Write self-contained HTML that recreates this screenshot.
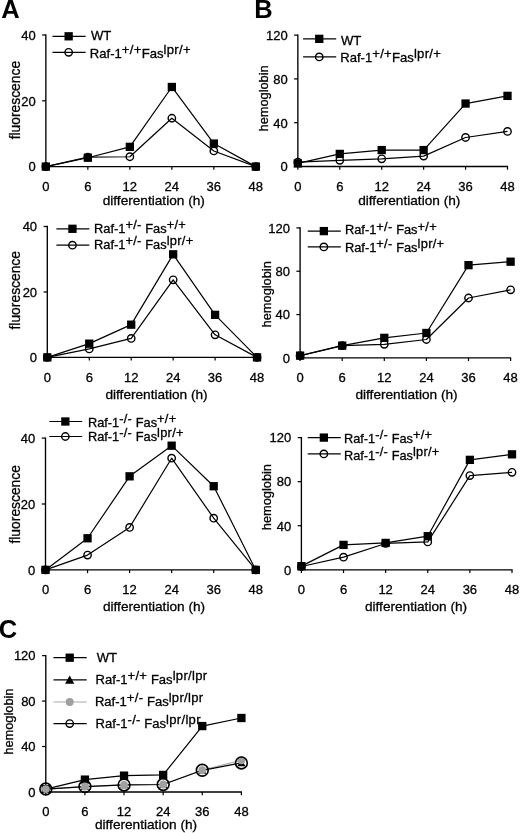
<!DOCTYPE html>
<html><head><meta charset="utf-8"><title>Figure</title>
<style>html,body{margin:0;padding:0;background:#fff}svg{display:block;filter:blur(0.35px)}text{font-family:"Liberation Sans", sans-serif;fill:#000;stroke:#000;stroke-width:0.3px}</style>
</head><body>
<svg width="520" height="833" viewBox="0 0 520 833">
<rect width="520" height="833" fill="#fff"/>
<text x="1.2" y="18.4" font-size="25.5" font-weight="bold" style="stroke:none">A</text>
<text x="254.2" y="18.4" font-size="25.5" font-weight="bold" style="stroke:none">B</text>
<text x="-1.3" y="638.4" font-size="25.5" font-weight="bold" style="stroke:none">C</text>
<path d="M45.85 34.30 V166.6 H256.45" fill="none" stroke="#000" stroke-width="1.35"/>
<path d="M42.15 166.60 H45.85" stroke="#000" stroke-width="1.25"/>
<text x="35.65" y="171.40" text-anchor="end" font-size="13.0">0</text>
<path d="M42.15 100.80 H45.85" stroke="#000" stroke-width="1.25"/>
<text x="35.65" y="105.60" text-anchor="end" font-size="13.0">20</text>
<path d="M42.15 35.00 H45.85" stroke="#000" stroke-width="1.25"/>
<text x="35.65" y="39.80" text-anchor="end" font-size="13.0">40</text>
<path d="M45.85 166.6 V169.80" stroke="#000" stroke-width="1.2"/>
<text x="45.85" y="191.30" text-anchor="middle" font-size="13.0">0</text>
<path d="M87.85 166.6 V169.80" stroke="#000" stroke-width="1.2"/>
<text x="87.85" y="191.30" text-anchor="middle" font-size="13.0">6</text>
<path d="M129.85 166.6 V169.80" stroke="#000" stroke-width="1.2"/>
<text x="129.85" y="191.30" text-anchor="middle" font-size="13.0">12</text>
<path d="M171.85 166.6 V169.80" stroke="#000" stroke-width="1.2"/>
<text x="171.85" y="191.30" text-anchor="middle" font-size="13.0">24</text>
<path d="M213.85 166.6 V169.80" stroke="#000" stroke-width="1.2"/>
<text x="213.85" y="191.30" text-anchor="middle" font-size="13.0">36</text>
<path d="M255.85 166.6 V169.80" stroke="#000" stroke-width="1.2"/>
<text x="255.85" y="191.30" text-anchor="middle" font-size="13.0">48</text>
<text x="153.75" y="205.00" text-anchor="middle" font-size="13.65">differentiation (h)</text>
<text transform="translate(20.2,100.10) rotate(-90)" text-anchor="middle" font-size="13.85">fluorescence</text>
<path d="M45.85 166.60 L87.85 157.06 L129.85 156.73 L171.85 118.24 L213.85 150.97 L255.85 166.60" fill="none" stroke="#000" stroke-width="1.2" stroke-linejoin="round"/>
<circle cx="45.85" cy="166.60" r="3.7" fill="none" stroke="#000" stroke-width="1.4"/>
<circle cx="87.85" cy="157.06" r="3.7" fill="none" stroke="#000" stroke-width="1.4"/>
<circle cx="129.85" cy="156.73" r="3.7" fill="none" stroke="#000" stroke-width="1.4"/>
<circle cx="171.85" cy="118.24" r="3.7" fill="none" stroke="#000" stroke-width="1.4"/>
<circle cx="213.85" cy="150.97" r="3.7" fill="none" stroke="#000" stroke-width="1.4"/>
<circle cx="255.85" cy="166.60" r="3.7" fill="none" stroke="#000" stroke-width="1.4"/>
<path d="M45.85 166.60 L87.85 157.72 L129.85 146.86 L171.85 86.98 L213.85 143.57 L255.85 166.60" fill="none" stroke="#000" stroke-width="1.2" stroke-linejoin="round"/>
<rect x="41.70" y="162.45" width="8.3" height="8.3" fill="#000"/>
<rect x="83.70" y="153.57" width="8.3" height="8.3" fill="#000"/>
<rect x="125.70" y="142.71" width="8.3" height="8.3" fill="#000"/>
<rect x="167.70" y="82.83" width="8.3" height="8.3" fill="#000"/>
<rect x="209.70" y="139.42" width="8.3" height="8.3" fill="#000"/>
<rect x="251.70" y="162.45" width="8.3" height="8.3" fill="#000"/>
<path d="M52.5 36.3 H85.6" stroke="#000" stroke-width="1.2"/>
<rect x="64.50" y="32.15" width="8.3" height="8.3" fill="#000"/>
<text x="90.9" y="40.4" font-size="13.1"><tspan dy="0.0">WT</tspan></text>
<path d="M52.5 52.3 H85.6" stroke="#000" stroke-width="1.2"/>
<circle cx="68.65" cy="52.30" r="3.7" fill="none" stroke="#000" stroke-width="1.4"/>
<text x="89.8" y="57.7" font-size="13.1"><tspan dy="0.0">Raf-1</tspan><tspan dy="-3.8" letter-spacing="0.3">+/+</tspan><tspan dy="3.8">Fas</tspan><tspan dy="-3.8" letter-spacing="0.3">lpr/+</tspan></text>
<path d="M47.3 225.80 V357.4 H257.65" fill="none" stroke="#000" stroke-width="1.35"/>
<path d="M43.60 357.40 H47.3" stroke="#000" stroke-width="1.25"/>
<text x="37.10" y="362.20" text-anchor="end" font-size="13.0">0</text>
<path d="M43.60 291.95 H47.3" stroke="#000" stroke-width="1.25"/>
<text x="37.10" y="296.75" text-anchor="end" font-size="13.0">20</text>
<path d="M43.60 226.50 H47.3" stroke="#000" stroke-width="1.25"/>
<text x="37.10" y="231.30" text-anchor="end" font-size="13.0">40</text>
<path d="M47.30 357.4 V360.60" stroke="#000" stroke-width="1.2"/>
<text x="47.30" y="382.00" text-anchor="middle" font-size="13.0">0</text>
<path d="M89.25 357.4 V360.60" stroke="#000" stroke-width="1.2"/>
<text x="89.25" y="382.00" text-anchor="middle" font-size="13.0">6</text>
<path d="M131.20 357.4 V360.60" stroke="#000" stroke-width="1.2"/>
<text x="131.20" y="382.00" text-anchor="middle" font-size="13.0">12</text>
<path d="M173.15 357.4 V360.60" stroke="#000" stroke-width="1.2"/>
<text x="173.15" y="382.00" text-anchor="middle" font-size="13.0">24</text>
<path d="M215.10 357.4 V360.60" stroke="#000" stroke-width="1.2"/>
<text x="215.10" y="382.00" text-anchor="middle" font-size="13.0">36</text>
<path d="M257.05 357.4 V360.60" stroke="#000" stroke-width="1.2"/>
<text x="257.05" y="382.00" text-anchor="middle" font-size="13.0">48</text>
<text x="156.50" y="398.75" text-anchor="middle" font-size="13.65">differentiation (h)</text>
<text transform="translate(20.2,290.25) rotate(-90)" text-anchor="middle" font-size="13.85">fluorescence</text>
<path d="M47.30 357.40 L89.25 348.89 L131.20 338.42 L173.15 279.84 L215.10 334.82 L257.05 357.40" fill="none" stroke="#000" stroke-width="1.2" stroke-linejoin="round"/>
<circle cx="47.30" cy="357.40" r="3.7" fill="none" stroke="#000" stroke-width="1.4"/>
<circle cx="89.25" cy="348.89" r="3.7" fill="none" stroke="#000" stroke-width="1.4"/>
<circle cx="131.20" cy="338.42" r="3.7" fill="none" stroke="#000" stroke-width="1.4"/>
<circle cx="173.15" cy="279.84" r="3.7" fill="none" stroke="#000" stroke-width="1.4"/>
<circle cx="215.10" cy="334.82" r="3.7" fill="none" stroke="#000" stroke-width="1.4"/>
<circle cx="257.05" cy="357.40" r="3.7" fill="none" stroke="#000" stroke-width="1.4"/>
<path d="M47.30 357.40 L89.25 343.66 L131.20 324.67 L173.15 254.32 L215.10 314.86 L257.05 357.40" fill="none" stroke="#000" stroke-width="1.2" stroke-linejoin="round"/>
<rect x="43.15" y="353.25" width="8.3" height="8.3" fill="#000"/>
<rect x="85.10" y="339.51" width="8.3" height="8.3" fill="#000"/>
<rect x="127.05" y="320.52" width="8.3" height="8.3" fill="#000"/>
<rect x="169.00" y="250.17" width="8.3" height="8.3" fill="#000"/>
<rect x="210.95" y="310.71" width="8.3" height="8.3" fill="#000"/>
<rect x="252.90" y="353.25" width="8.3" height="8.3" fill="#000"/>
<path d="M56.4 228.8 H89.3" stroke="#000" stroke-width="1.2"/>
<rect x="68.30" y="224.65" width="8.3" height="8.3" fill="#000"/>
<text x="94.0" y="232.5" font-size="12.85"><tspan dy="0.0">Raf-1</tspan><tspan dy="-3.8" letter-spacing="0.3">+/-</tspan><tspan dy="3.8">&#160;Fas</tspan><tspan dy="-3.8" letter-spacing="0.3">+/+</tspan></text>
<path d="M56.4 245.2 H89.3" stroke="#000" stroke-width="1.2"/>
<circle cx="72.45" cy="245.20" r="3.7" fill="none" stroke="#000" stroke-width="1.4"/>
<text x="94.0" y="249.2" font-size="12.85"><tspan dy="0.0">Raf-1</tspan><tspan dy="-3.8" letter-spacing="0.3">+/-</tspan><tspan dy="3.8">&#160;Fas</tspan><tspan dy="-3.8" letter-spacing="0.3">lpr/+</tspan></text>
<path d="M45.5 437.40 V569.9 H256.35" fill="none" stroke="#000" stroke-width="1.35"/>
<path d="M41.80 569.90 H45.5" stroke="#000" stroke-width="1.25"/>
<text x="35.30" y="574.70" text-anchor="end" font-size="13.0">0</text>
<path d="M41.80 504.00 H45.5" stroke="#000" stroke-width="1.25"/>
<text x="35.30" y="508.80" text-anchor="end" font-size="13.0">20</text>
<path d="M41.80 438.10 H45.5" stroke="#000" stroke-width="1.25"/>
<text x="35.30" y="442.90" text-anchor="end" font-size="13.0">40</text>
<path d="M45.50 569.9 V573.10" stroke="#000" stroke-width="1.2"/>
<text x="45.50" y="594.30" text-anchor="middle" font-size="13.0">0</text>
<path d="M87.55 569.9 V573.10" stroke="#000" stroke-width="1.2"/>
<text x="87.55" y="594.30" text-anchor="middle" font-size="13.0">6</text>
<path d="M129.60 569.9 V573.10" stroke="#000" stroke-width="1.2"/>
<text x="129.60" y="594.30" text-anchor="middle" font-size="13.0">12</text>
<path d="M171.65 569.9 V573.10" stroke="#000" stroke-width="1.2"/>
<text x="171.65" y="594.30" text-anchor="middle" font-size="13.0">24</text>
<path d="M213.70 569.9 V573.10" stroke="#000" stroke-width="1.2"/>
<text x="213.70" y="594.30" text-anchor="middle" font-size="13.0">36</text>
<path d="M255.75 569.9 V573.10" stroke="#000" stroke-width="1.2"/>
<text x="255.75" y="594.30" text-anchor="middle" font-size="13.0">48</text>
<text x="154.00" y="610.75" text-anchor="middle" font-size="13.65">differentiation (h)</text>
<text transform="translate(19.5,504.30) rotate(-90)" text-anchor="middle" font-size="13.85">fluorescence</text>
<path d="M45.50 569.90 L87.55 555.07 L129.60 527.39 L171.65 458.20 L213.70 518.17 L255.75 569.90" fill="none" stroke="#000" stroke-width="1.2" stroke-linejoin="round"/>
<circle cx="45.50" cy="569.90" r="3.7" fill="none" stroke="#000" stroke-width="1.4"/>
<circle cx="87.55" cy="555.07" r="3.7" fill="none" stroke="#000" stroke-width="1.4"/>
<circle cx="129.60" cy="527.39" r="3.7" fill="none" stroke="#000" stroke-width="1.4"/>
<circle cx="171.65" cy="458.20" r="3.7" fill="none" stroke="#000" stroke-width="1.4"/>
<circle cx="213.70" cy="518.17" r="3.7" fill="none" stroke="#000" stroke-width="1.4"/>
<circle cx="255.75" cy="569.90" r="3.7" fill="none" stroke="#000" stroke-width="1.4"/>
<path d="M45.50 569.90 L87.55 538.27 L129.60 476.32 L171.65 445.68 L213.70 486.21 L255.75 569.90" fill="none" stroke="#000" stroke-width="1.2" stroke-linejoin="round"/>
<rect x="41.35" y="565.75" width="8.3" height="8.3" fill="#000"/>
<rect x="83.40" y="534.12" width="8.3" height="8.3" fill="#000"/>
<rect x="125.45" y="472.17" width="8.3" height="8.3" fill="#000"/>
<rect x="167.50" y="441.53" width="8.3" height="8.3" fill="#000"/>
<rect x="209.55" y="482.06" width="8.3" height="8.3" fill="#000"/>
<rect x="251.60" y="565.75" width="8.3" height="8.3" fill="#000"/>
<path d="M49.3 421.5 H82.2" stroke="#000" stroke-width="1.2"/>
<rect x="61.20" y="417.35" width="8.3" height="8.3" fill="#000"/>
<text x="87.9" y="426.5" font-size="12.8"><tspan dy="0.0">Raf-1</tspan><tspan dy="-3.8" letter-spacing="0.3">-/-</tspan><tspan dy="3.8">&#160;Fas</tspan><tspan dy="-3.8" letter-spacing="0.3">+/+</tspan></text>
<path d="M49.3 436.5 H82.2" stroke="#000" stroke-width="1.2"/>
<circle cx="65.35" cy="436.50" r="3.7" fill="none" stroke="#000" stroke-width="1.4"/>
<text x="87.9" y="441.2" font-size="12.8"><tspan dy="0.0">Raf-1</tspan><tspan dy="-3.8" letter-spacing="0.3">-/-</tspan><tspan dy="3.8">&#160;Fas</tspan><tspan dy="-3.8" letter-spacing="0.3">lpr/+</tspan></text>
<path d="M297.85 34.40 V166.5 H508.10" fill="none" stroke="#000" stroke-width="1.35"/>
<path d="M294.15 166.50 H297.85" stroke="#000" stroke-width="1.25"/>
<text x="287.65" y="171.30" text-anchor="end" font-size="13.0">0</text>
<path d="M294.15 122.70 H297.85" stroke="#000" stroke-width="1.25"/>
<text x="287.65" y="127.50" text-anchor="end" font-size="13.0">40</text>
<path d="M294.15 78.90 H297.85" stroke="#000" stroke-width="1.25"/>
<text x="287.65" y="83.70" text-anchor="end" font-size="13.0">80</text>
<path d="M294.15 35.10 H297.85" stroke="#000" stroke-width="1.25"/>
<text x="287.65" y="39.90" text-anchor="end" font-size="13.0">120</text>
<path d="M297.85 166.5 V169.70" stroke="#000" stroke-width="1.2"/>
<text x="297.85" y="190.90" text-anchor="middle" font-size="13.0">0</text>
<path d="M339.78 166.5 V169.70" stroke="#000" stroke-width="1.2"/>
<text x="339.78" y="190.90" text-anchor="middle" font-size="13.0">6</text>
<path d="M381.71 166.5 V169.70" stroke="#000" stroke-width="1.2"/>
<text x="381.71" y="190.90" text-anchor="middle" font-size="13.0">12</text>
<path d="M423.64 166.5 V169.70" stroke="#000" stroke-width="1.2"/>
<text x="423.64" y="190.90" text-anchor="middle" font-size="13.0">24</text>
<path d="M465.57 166.5 V169.70" stroke="#000" stroke-width="1.2"/>
<text x="465.57" y="190.90" text-anchor="middle" font-size="13.0">36</text>
<path d="M507.50 166.5 V169.70" stroke="#000" stroke-width="1.2"/>
<text x="507.50" y="190.90" text-anchor="middle" font-size="13.0">48</text>
<text x="409.25" y="205.00" text-anchor="middle" font-size="13.65">differentiation (h)</text>
<text transform="translate(268.2,98.40) rotate(-90)" text-anchor="middle" font-size="12.8">hemoglobin</text>
<path d="M297.85 162.12 L339.78 160.37 L381.71 158.84 L423.64 156.10 L465.57 137.48 L507.50 131.46" fill="none" stroke="#000" stroke-width="1.2" stroke-linejoin="round"/>
<circle cx="297.85" cy="162.12" r="3.7" fill="none" stroke="#000" stroke-width="1.4"/>
<circle cx="339.78" cy="160.37" r="3.7" fill="none" stroke="#000" stroke-width="1.4"/>
<circle cx="381.71" cy="158.84" r="3.7" fill="none" stroke="#000" stroke-width="1.4"/>
<circle cx="423.64" cy="156.10" r="3.7" fill="none" stroke="#000" stroke-width="1.4"/>
<circle cx="465.57" cy="137.48" r="3.7" fill="none" stroke="#000" stroke-width="1.4"/>
<circle cx="507.50" cy="131.46" r="3.7" fill="none" stroke="#000" stroke-width="1.4"/>
<path d="M297.85 163.43 L339.78 153.91 L381.71 150.07 L423.64 150.07 L465.57 103.54 L507.50 95.87" fill="none" stroke="#000" stroke-width="1.2" stroke-linejoin="round"/>
<rect x="293.70" y="159.28" width="8.3" height="8.3" fill="#000"/>
<rect x="335.63" y="149.76" width="8.3" height="8.3" fill="#000"/>
<rect x="377.56" y="145.92" width="8.3" height="8.3" fill="#000"/>
<rect x="419.49" y="145.92" width="8.3" height="8.3" fill="#000"/>
<rect x="461.42" y="99.39" width="8.3" height="8.3" fill="#000"/>
<rect x="503.35" y="91.72" width="8.3" height="8.3" fill="#000"/>
<path d="M303.1 38.85 H336.2" stroke="#000" stroke-width="1.2"/>
<rect x="315.10" y="34.70" width="8.3" height="8.3" fill="#000"/>
<text x="341.0" y="45.3" font-size="13.1"><tspan dy="0.0">WT</tspan></text>
<path d="M303.1 56.9 H336.2" stroke="#000" stroke-width="1.2"/>
<circle cx="319.25" cy="56.90" r="3.7" fill="none" stroke="#000" stroke-width="1.4"/>
<text x="340.2" y="62.0" font-size="13.1"><tspan dy="0.0">Raf-1</tspan><tspan dy="-3.8" letter-spacing="0.3">+/+</tspan><tspan dy="3.8">Fas</tspan><tspan dy="-3.8" letter-spacing="0.3">lpr/+</tspan></text>
<path d="M300.1 227.20 V357.9 H511.20" fill="none" stroke="#000" stroke-width="1.35"/>
<path d="M296.40 357.90 H300.1" stroke="#000" stroke-width="1.25"/>
<text x="289.90" y="362.70" text-anchor="end" font-size="13.0">0</text>
<path d="M296.40 314.57 H300.1" stroke="#000" stroke-width="1.25"/>
<text x="289.90" y="319.37" text-anchor="end" font-size="13.0">40</text>
<path d="M296.40 271.23 H300.1" stroke="#000" stroke-width="1.25"/>
<text x="289.90" y="276.03" text-anchor="end" font-size="13.0">80</text>
<path d="M296.40 227.90 H300.1" stroke="#000" stroke-width="1.25"/>
<text x="289.90" y="232.70" text-anchor="end" font-size="13.0">120</text>
<path d="M300.10 357.9 V361.10" stroke="#000" stroke-width="1.2"/>
<text x="300.10" y="382.40" text-anchor="middle" font-size="13.0">0</text>
<path d="M342.20 357.9 V361.10" stroke="#000" stroke-width="1.2"/>
<text x="342.20" y="382.40" text-anchor="middle" font-size="13.0">6</text>
<path d="M384.30 357.9 V361.10" stroke="#000" stroke-width="1.2"/>
<text x="384.30" y="382.40" text-anchor="middle" font-size="13.0">12</text>
<path d="M426.40 357.9 V361.10" stroke="#000" stroke-width="1.2"/>
<text x="426.40" y="382.40" text-anchor="middle" font-size="13.0">24</text>
<path d="M468.50 357.9 V361.10" stroke="#000" stroke-width="1.2"/>
<text x="468.50" y="382.40" text-anchor="middle" font-size="13.0">36</text>
<path d="M510.60 357.9 V361.10" stroke="#000" stroke-width="1.2"/>
<text x="510.60" y="382.40" text-anchor="middle" font-size="13.0">48</text>
<text x="406.50" y="398.50" text-anchor="middle" font-size="13.65">differentiation (h)</text>
<text transform="translate(271.2,294.30) rotate(-90)" text-anchor="middle" font-size="12.8">hemoglobin</text>
<path d="M300.10 355.73 L342.20 345.66 L384.30 344.36 L426.40 339.48 L468.50 297.99 L510.60 289.87" fill="none" stroke="#000" stroke-width="1.2" stroke-linejoin="round"/>
<circle cx="300.10" cy="355.73" r="3.7" fill="none" stroke="#000" stroke-width="1.4"/>
<circle cx="342.20" cy="345.66" r="3.7" fill="none" stroke="#000" stroke-width="1.4"/>
<circle cx="384.30" cy="344.36" r="3.7" fill="none" stroke="#000" stroke-width="1.4"/>
<circle cx="426.40" cy="339.48" r="3.7" fill="none" stroke="#000" stroke-width="1.4"/>
<circle cx="468.50" cy="297.99" r="3.7" fill="none" stroke="#000" stroke-width="1.4"/>
<circle cx="510.60" cy="289.87" r="3.7" fill="none" stroke="#000" stroke-width="1.4"/>
<path d="M300.10 355.62 L342.20 345.66 L384.30 337.86 L426.40 332.98 L468.50 265.17 L510.60 261.70" fill="none" stroke="#000" stroke-width="1.2" stroke-linejoin="round"/>
<rect x="295.95" y="351.48" width="8.3" height="8.3" fill="#000"/>
<rect x="338.05" y="341.51" width="8.3" height="8.3" fill="#000"/>
<rect x="380.15" y="333.71" width="8.3" height="8.3" fill="#000"/>
<rect x="422.25" y="328.83" width="8.3" height="8.3" fill="#000"/>
<rect x="464.35" y="261.02" width="8.3" height="8.3" fill="#000"/>
<rect x="506.45" y="257.55" width="8.3" height="8.3" fill="#000"/>
<path d="M307.7 231.1 H340.8" stroke="#000" stroke-width="1.2"/>
<rect x="319.70" y="226.95" width="8.3" height="8.3" fill="#000"/>
<text x="344.9" y="234.3" font-size="12.85"><tspan dy="0.0">Raf-1</tspan><tspan dy="-3.8" letter-spacing="0.3">+/-</tspan><tspan dy="3.8">&#160;Fas</tspan><tspan dy="-3.8" letter-spacing="0.3">+/+</tspan></text>
<path d="M307.7 246.9 H340.8" stroke="#000" stroke-width="1.2"/>
<circle cx="323.85" cy="246.90" r="3.7" fill="none" stroke="#000" stroke-width="1.4"/>
<text x="344.9" y="252.2" font-size="12.85"><tspan dy="0.0">Raf-1</tspan><tspan dy="-3.8" letter-spacing="0.3">+/-</tspan><tspan dy="3.8">&#160;Fas</tspan><tspan dy="-3.8" letter-spacing="0.3">lpr/+</tspan></text>
<path d="M301.4 436.90 V569.8 H512.60" fill="none" stroke="#000" stroke-width="1.35"/>
<path d="M297.70 569.80 H301.4" stroke="#000" stroke-width="1.25"/>
<text x="291.20" y="574.60" text-anchor="end" font-size="13.0">0</text>
<path d="M297.70 525.73 H301.4" stroke="#000" stroke-width="1.25"/>
<text x="291.20" y="530.53" text-anchor="end" font-size="13.0">40</text>
<path d="M297.70 481.67 H301.4" stroke="#000" stroke-width="1.25"/>
<text x="291.20" y="486.47" text-anchor="end" font-size="13.0">80</text>
<path d="M297.70 437.60 H301.4" stroke="#000" stroke-width="1.25"/>
<text x="291.20" y="442.40" text-anchor="end" font-size="13.0">120</text>
<path d="M301.40 569.8 V573.00" stroke="#000" stroke-width="1.2"/>
<text x="301.40" y="594.30" text-anchor="middle" font-size="13.0">0</text>
<path d="M343.52 569.8 V573.00" stroke="#000" stroke-width="1.2"/>
<text x="343.52" y="594.30" text-anchor="middle" font-size="13.0">6</text>
<path d="M385.64 569.8 V573.00" stroke="#000" stroke-width="1.2"/>
<text x="385.64" y="594.30" text-anchor="middle" font-size="13.0">12</text>
<path d="M427.76 569.8 V573.00" stroke="#000" stroke-width="1.2"/>
<text x="427.76" y="594.30" text-anchor="middle" font-size="13.0">24</text>
<path d="M469.88 569.8 V573.00" stroke="#000" stroke-width="1.2"/>
<text x="469.88" y="594.30" text-anchor="middle" font-size="13.0">36</text>
<path d="M512.00 569.8 V573.00" stroke="#000" stroke-width="1.2"/>
<text x="512.00" y="594.30" text-anchor="middle" font-size="13.0">48</text>
<text x="416.00" y="611.25" text-anchor="middle" font-size="13.65">differentiation (h)</text>
<text transform="translate(271.2,497.10) rotate(-90)" text-anchor="middle" font-size="12.8">hemoglobin</text>
<path d="M301.40 566.50 L343.52 557.13 L385.64 543.47 L427.76 541.93 L469.88 475.61 L512.00 472.30" fill="none" stroke="#000" stroke-width="1.2" stroke-linejoin="round"/>
<circle cx="301.40" cy="566.50" r="3.7" fill="none" stroke="#000" stroke-width="1.4"/>
<circle cx="343.52" cy="557.13" r="3.7" fill="none" stroke="#000" stroke-width="1.4"/>
<circle cx="385.64" cy="543.47" r="3.7" fill="none" stroke="#000" stroke-width="1.4"/>
<circle cx="427.76" cy="541.93" r="3.7" fill="none" stroke="#000" stroke-width="1.4"/>
<circle cx="469.88" cy="475.61" r="3.7" fill="none" stroke="#000" stroke-width="1.4"/>
<circle cx="512.00" cy="472.30" r="3.7" fill="none" stroke="#000" stroke-width="1.4"/>
<path d="M301.40 566.16 L343.52 544.90 L385.64 542.92 L427.76 536.20 L469.88 459.85 L512.00 454.35" fill="none" stroke="#000" stroke-width="1.2" stroke-linejoin="round"/>
<rect x="297.25" y="562.01" width="8.3" height="8.3" fill="#000"/>
<rect x="339.37" y="540.75" width="8.3" height="8.3" fill="#000"/>
<rect x="381.49" y="538.77" width="8.3" height="8.3" fill="#000"/>
<rect x="423.61" y="532.05" width="8.3" height="8.3" fill="#000"/>
<rect x="465.73" y="455.70" width="8.3" height="8.3" fill="#000"/>
<rect x="507.85" y="450.20" width="8.3" height="8.3" fill="#000"/>
<path d="M307.7 437.6 H340.8" stroke="#000" stroke-width="1.2"/>
<rect x="319.70" y="433.45" width="8.3" height="8.3" fill="#000"/>
<text x="344.0" y="442.6" font-size="12.75"><tspan dy="0.0">Raf-1</tspan><tspan dy="-3.8" letter-spacing="0.3">-/-</tspan><tspan dy="3.8">&#160;Fas</tspan><tspan dy="-3.8" letter-spacing="0.3">+/+</tspan></text>
<path d="M307.7 453.9 H340.8" stroke="#000" stroke-width="1.2"/>
<circle cx="323.85" cy="453.90" r="3.7" fill="none" stroke="#000" stroke-width="1.4"/>
<text x="344.0" y="459.7" font-size="12.75"><tspan dy="0.0">Raf-1</tspan><tspan dy="-3.8" letter-spacing="0.3">-/-</tspan><tspan dy="3.8">&#160;Fas</tspan><tspan dy="-3.8" letter-spacing="0.3">lpr/+</tspan></text>
<path d="M45.8 654.90 V792.0 H242.00" fill="none" stroke="#000" stroke-width="1.35"/>
<path d="M42.10 792.00 H45.8" stroke="#000" stroke-width="1.25"/>
<text x="35.60" y="796.80" text-anchor="end" font-size="13.0">0</text>
<path d="M42.10 746.53 H45.8" stroke="#000" stroke-width="1.25"/>
<text x="35.60" y="751.33" text-anchor="end" font-size="13.0">40</text>
<path d="M42.10 701.07 H45.8" stroke="#000" stroke-width="1.25"/>
<text x="35.60" y="705.87" text-anchor="end" font-size="13.0">80</text>
<path d="M42.10 655.60 H45.8" stroke="#000" stroke-width="1.25"/>
<text x="35.60" y="660.40" text-anchor="end" font-size="13.0">120</text>
<path d="M45.80 792.0 V795.20" stroke="#000" stroke-width="1.2"/>
<text x="45.80" y="816.00" text-anchor="middle" font-size="13.0">0</text>
<path d="M84.92 792.0 V795.20" stroke="#000" stroke-width="1.2"/>
<text x="84.92" y="816.00" text-anchor="middle" font-size="13.0">6</text>
<path d="M124.04 792.0 V795.20" stroke="#000" stroke-width="1.2"/>
<text x="124.04" y="816.00" text-anchor="middle" font-size="13.0">12</text>
<path d="M163.16 792.0 V795.20" stroke="#000" stroke-width="1.2"/>
<text x="163.16" y="816.00" text-anchor="middle" font-size="13.0">24</text>
<path d="M202.28 792.0 V795.20" stroke="#000" stroke-width="1.2"/>
<text x="202.28" y="816.00" text-anchor="middle" font-size="13.0">36</text>
<path d="M241.40 792.0 V795.20" stroke="#000" stroke-width="1.2"/>
<text x="241.40" y="816.00" text-anchor="middle" font-size="13.0">48</text>
<text x="146.00" y="828.75" text-anchor="middle" font-size="13.65">differentiation (h)</text>
<text transform="translate(13.4,721.60) rotate(-90)" text-anchor="middle" font-size="12.8">hemoglobin</text>
<path d="M45.80 789.16 L84.92 779.61 L124.04 775.63 L163.16 774.95 L202.28 726.07 L241.40 718.00" fill="none" stroke="#000" stroke-width="1.2" stroke-linejoin="round"/>
<rect x="41.65" y="785.01" width="8.3" height="8.3" fill="#000"/>
<rect x="80.77" y="775.46" width="8.3" height="8.3" fill="#000"/>
<rect x="119.89" y="771.48" width="8.3" height="8.3" fill="#000"/>
<rect x="159.01" y="770.80" width="8.3" height="8.3" fill="#000"/>
<rect x="198.13" y="721.92" width="8.3" height="8.3" fill="#000"/>
<rect x="237.25" y="713.85" width="8.3" height="8.3" fill="#000"/>
<path d="M45.80 789.10 L84.92 786.54 L124.04 784.95 L163.16 784.50 L202.28 770.18 L241.40 760.29" fill="none" stroke="#aaa" stroke-width="1.2" stroke-linejoin="round"/>
<path d="M45.80 789.10 L84.92 786.54 L124.04 784.95 L163.16 784.50 L202.28 770.29 L241.40 762.90" fill="none" stroke="#000" stroke-width="1.2" stroke-linejoin="round"/>
<path d="M45.80 784.90 L49.80 792.50 L41.80 792.50 Z" fill="#000"/>
<path d="M84.92 782.34 L88.92 789.94 L80.92 789.94 Z" fill="#000"/>
<path d="M124.04 780.75 L128.04 788.35 L120.04 788.35 Z" fill="#000"/>
<path d="M163.16 780.30 L167.16 787.90 L159.16 787.90 Z" fill="#000"/>
<path d="M202.28 766.09 L206.28 773.69 L198.28 773.69 Z" fill="#000"/>
<path d="M241.40 758.70 L245.40 766.30 L237.40 766.30 Z" fill="#000"/>
<circle cx="45.80" cy="789.10" r="3.95" fill="#a0a0a0"/>
<circle cx="84.92" cy="786.54" r="3.95" fill="#a0a0a0"/>
<circle cx="124.04" cy="784.95" r="3.95" fill="#a0a0a0"/>
<circle cx="163.16" cy="784.50" r="3.95" fill="#a0a0a0"/>
<circle cx="202.28" cy="770.18" r="3.95" fill="#a0a0a0"/>
<circle cx="241.40" cy="760.29" r="3.95" fill="#a0a0a0"/>
<circle cx="45.80" cy="789.10" r="5.9" fill="none" stroke="#000" stroke-width="1.65"/>
<circle cx="84.92" cy="786.54" r="5.9" fill="none" stroke="#000" stroke-width="1.65"/>
<circle cx="124.04" cy="784.95" r="5.9" fill="none" stroke="#000" stroke-width="1.65"/>
<circle cx="163.16" cy="784.50" r="5.9" fill="none" stroke="#000" stroke-width="1.65"/>
<circle cx="202.28" cy="770.29" r="5.9" fill="none" stroke="#000" stroke-width="1.65"/>
<circle cx="241.40" cy="762.90" r="5.9" fill="none" stroke="#000" stroke-width="1.65"/>
<path d="M53.5 657.7 H86.7" stroke="#000" stroke-width="1.2"/>
<rect x="65.55" y="653.55" width="8.3" height="8.3" fill="#000"/>
<text x="96.8" y="662.3" font-size="13.05"><tspan dy="0.0">WT</tspan></text>
<path d="M53.5 679.8 H86.7" stroke="#000" stroke-width="1.2"/>
<path d="M69.70 675.40 L74.30 683.80 L65.10 683.80 Z" fill="#000"/>
<text x="95.6" y="683.8" font-size="13.05"><tspan dy="0.0">Raf-1</tspan><tspan dy="-3.8" letter-spacing="0.3">+/+</tspan><tspan dy="3.8">&#160;Fas</tspan><tspan dy="-3.8" letter-spacing="0.3">lpr/lpr</tspan></text>
<path d="M53.5 702 H86.7" stroke="#aaa" stroke-width="1.2"/>
<circle cx="69.70" cy="702.00" r="3.95" fill="#a0a0a0"/>
<text x="94.9" y="706.2" font-size="13.05"><tspan dy="0.0">Raf-1</tspan><tspan dy="-3.8" letter-spacing="0.3">+/-</tspan><tspan dy="3.8">&#160;Fas</tspan><tspan dy="-3.8" letter-spacing="0.3">lpr/lpr</tspan></text>
<path d="M53.5 723.6 H86.7" stroke="#000" stroke-width="1.2"/>
<circle cx="69.70" cy="723.60" r="3.7" fill="none" stroke="#000" stroke-width="1.4"/>
<text x="95.6" y="728.1" font-size="13.05"><tspan dy="0.0">Raf-1</tspan><tspan dy="-3.8" letter-spacing="0.3">-/-</tspan><tspan dy="3.8">&#160;Fas</tspan><tspan dy="-3.8" letter-spacing="0.3">lpr/lpr</tspan></text>
</svg></body></html>
